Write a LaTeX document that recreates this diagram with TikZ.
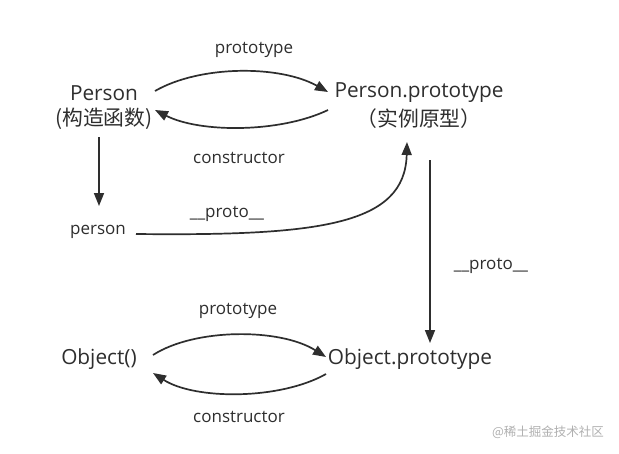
\documentclass[tikz,border=0pt]{standalone}
\usepackage{fontspec}
\setmainfont{Open Sans}
\newfontfamily\cjk{Noto Sans CJK SC}
\usetikzlibrary{arrows.meta}
\definecolor{ink}{HTML}{2E2E2E}
\definecolor{wm}{HTML}{B0B0B0}
\tikzset{
  big/.style={font=\fontsize{20.8}{24}\selectfont, text=ink, inner sep=0pt},
  small/.style={font=\fontsize{17}{19}\selectfont, text=ink, inner sep=0pt},
  arr/.style={draw=ink, line width=1.7pt, -{Triangle[length=13pt,width=10pt]}},
}
\begin{document}
\begin{tikzpicture}[x=1pt,y=-1pt]
\useasboundingbox[fill=white] (0,0) rectangle (619,453);
% nodes
\node[big] (person1) at (104,93) {Person};
\node[big] (person2) at (104,119) {\cjk (构造函数)};
\node[big] (pp1) at (419,93) {Person.prototype};
\node[big] (pp2) at (419,119) {\cjk （实例原型）};
\node[small] (inst) at (98,232) {person};
\node[big] (obj) at (99,359) {Object()};
\node[big] (op) at (410,359) {Object.prototype};
% labels
\node[small] (l1) at (254,50) {prototype};
\node[small] (l2) at (239,158) {constructor};
\node[small] (l3) at (227,214) {\_\_proto\_\_};
\node[small] (l4) at (491,266) {\_\_proto\_\_};
\node[small] (l5) at (238,311) {prototype};
\node[small] (l6) at (239,417) {constructor};
\node[font=\cjk\fontsize{12.5}{14}\selectfont, text=wm, inner sep=0pt] (wmk) at (548,432) {@稀土掘金技术社区};
% connector endpoints
\coordinate (pA) at (155,91);
\coordinate (ppA) at (328,92);
\coordinate (ppB) at (328,110);
\coordinate (pB) at (155,110);
\coordinate (pDown) at (99,137);
\coordinate (instTop) at (99,206);
\coordinate (instR) at (136,234);
\coordinate (ppBot) at (407,142);
\coordinate (ppDown) at (430,160);
\coordinate (opTop) at (430,343);
\coordinate (oA) at (153,355);
\coordinate (opA) at (326,357);
\coordinate (opB) at (326,374);
\coordinate (oB) at (153,373);
% connectors
\draw[arr] (pA) .. controls (200,65) and (280,65) .. (ppA);
\draw[arr] (ppB) .. controls (280,133) and (200,133) .. (pB);
\draw[arr] (pDown) -- (instTop);
\draw[arr] (instR) .. controls (320,236) and (405,225) .. (ppBot);
\draw[arr] (ppDown) -- (opTop);
\draw[arr] (oA) .. controls (195,328) and (280,328) .. (opA);
\draw[arr] (opB) .. controls (280,400) and (195,400) .. (oB);
\end{tikzpicture}
\end{document}
